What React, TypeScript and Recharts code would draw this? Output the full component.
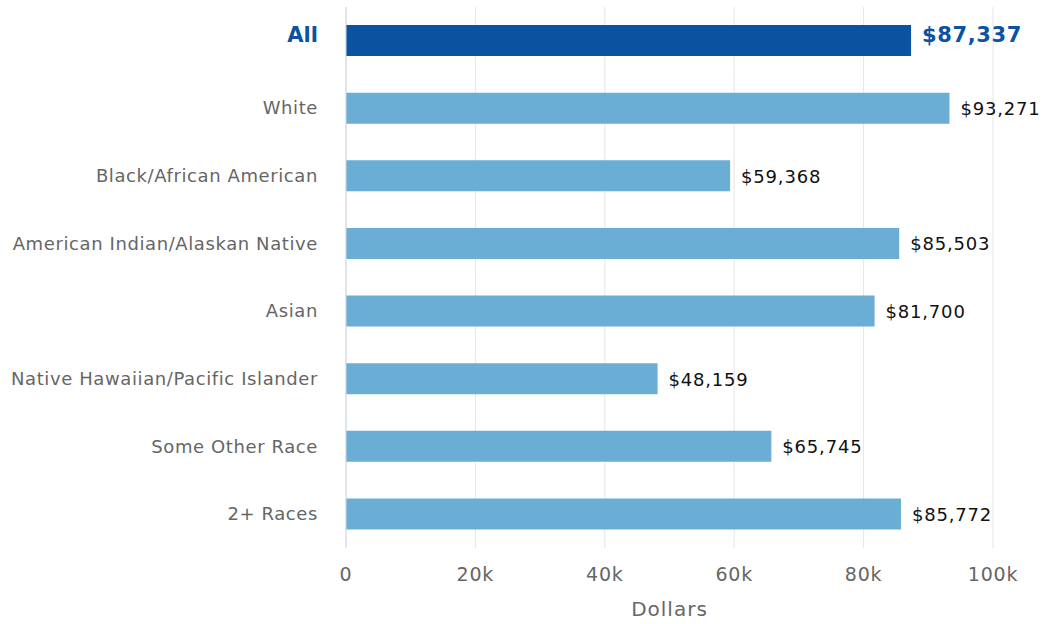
import { Bar, BarChart, CartesianGrid, Cell, LabelList, XAxis, YAxis } from "recharts";

const categories = [
  "All",
  "White",
  "Black/African American",
  "American Indian/Alaskan Native",
  "Asian",
  "Native Hawaiian/Pacific Islander",
  "Some Other Race",
  "2+ Races",
];
const incomes = [87337, 93271, 59368, 85503, 81700, 48159, 65745, 85772];
const xTicks = [0, 20000, 40000, 60000, 80000, 100000];

const data = categories.map((name, i) => ({ name, income: incomes[i] }));

const FONT = "DejaVu Sans";
const DARK = "#0b52a0";
const LIGHT = "#6aaed6";

const fmtMoney = (v: number) => "$" + v.toLocaleString("en-US");
const fmtK = (v: number) => (v === 0 ? "0" : v / 1000 + "k");

function CategoryTick(props: any) {
  const { x, y, payload } = props;
  const isAll = payload.value === "All";
  return (
    <text
      x={x - 20}
      y={y}
      dy={isAll ? 1 : 6}
      textAnchor="end"
      fontFamily={FONT}
      fontSize={isAll ? 21 : 18}
      fontWeight={isAll ? "bold" : "normal"}
      letterSpacing={isAll ? 0 : 0.6}
      fill={isAll ? DARK : "#666666"}
    >
      {payload.value}
    </text>
  );
}

function ValueLabel(props: any) {
  const { x, y, width, height, value, index } = props;
  const isAll = index === 0;
  return (
    <text
      x={x + width + 11}
      y={y + height / 2}
      dy={isAll ? 1 : 7}
      fontFamily={FONT}
      fontSize={isAll ? 21 : 18}
      fontWeight={isAll ? "bold" : "normal"}
      letterSpacing={isAll ? 0.6 : 0.8}
      fill={isAll ? DARK : "#111111"}
    >
      {fmtMoney(value)}
    </text>
  );
}

function AxisTitle(props: any) {
  const { viewBox } = props;
  return (
    <text
      x={viewBox.x + viewBox.width / 2}
      y={616}
      textAnchor="middle"
      fontFamily={FONT}
      fontSize={20}
      letterSpacing={1}
      fill="#666666"
    >
      Dollars
    </text>
  );
}

export default function App() {
  return (
    <div style={{ position: "absolute", left: 0, top: 0, background: "#fff", width: 1043, height: 624 }}>
      <BarChart
        width={1043}
        height={624}
        data={data}
        layout="vertical"
        margin={{ top: 7, right: 50, bottom: 0, left: 0 }}
        barSize={31}
      >
        <CartesianGrid horizontal={false} stroke="#e6e6e6" />
        <XAxis
          type="number"
          domain={[0, 100000]}
          ticks={xTicks}
          tickFormatter={fmtK}
          axisLine={false}
          tickLine={false}
          height={76}
          tickMargin={14}
          tick={{ fill: "#666666", fontSize: 19, fontFamily: FONT, letterSpacing: 0.8 }}
          label={<AxisTitle />}
        />
        <YAxis
          type="category"
          dataKey="name"
          width={346}
          axisLine={{ stroke: "#ccd6eb" }}
          tickLine={false}
          tick={<CategoryTick />}
        />
        <Bar dataKey="income" isAnimationActive={false}>
          {data.map((d, i) => (
            <Cell key={d.name} fill={i === 0 ? DARK : LIGHT} />
          ))}
          <LabelList dataKey="income" content={<ValueLabel />} />
        </Bar>
      </BarChart>
    </div>
  );
}
